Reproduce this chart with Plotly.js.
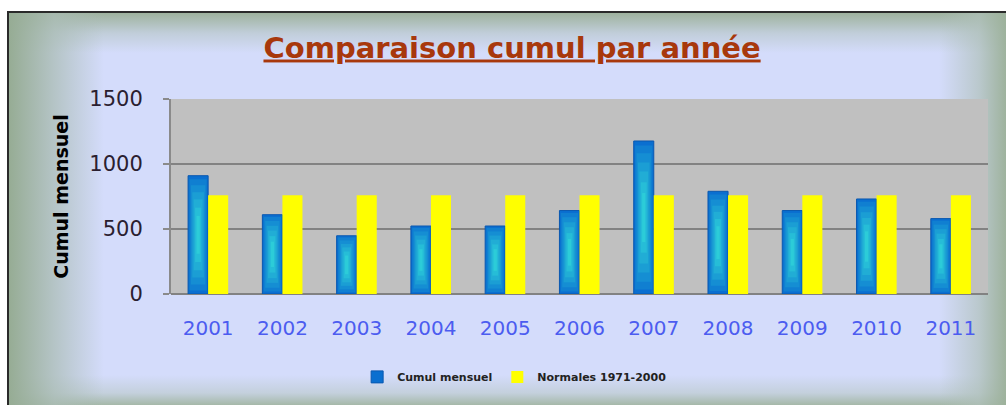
<!DOCTYPE html>
<html>
<head>
<meta charset="utf-8">
<script src="https://cdn.plot.ly/plotly-3.0.1.min.js"></script>
<style>
  html, body { margin: 0; padding: 0; background: #ffffff; }
  #wrap { position: relative; width: 1006px; height: 405px; overflow: hidden; background: #ffffff; }
  #frame {
    position: absolute; left: 7px; top: 11px; width: 1010px; height: 400px;
    border-left: 2px solid #2a2a2a; border-top: 2px solid #2a2a2a;
    background:
      linear-gradient(to right, rgba(150,172,148,1) 0px, rgba(170,188,180,0.75) 45px, rgba(212,220,250,0) 95px),
      linear-gradient(to left, rgba(155,176,152,1) 10px, rgba(175,192,185,0.7) 40px, rgba(212,220,250,0) 80px),
      linear-gradient(to bottom, rgba(158,178,158,1) 0px, rgba(180,196,195,0.6) 20px, rgba(212,220,250,0) 40px),
      linear-gradient(to top, rgba(160,180,160,1) 6px, rgba(185,200,200,0.6) 20px, rgba(212,220,250,0) 38px),
      #d4dcfb;
  }
  #chart { position: absolute; left: 0; top: 0; width: 1006px; height: 405px; }
</style>
</head>
<body>
<div id="wrap">
  <div id="frame"></div>
  <div id="chart"></div>
</div>
<script>
const years = ['2001','2002','2003','2004','2005','2006','2007','2008','2009','2010','2011'];
const cumulMensuel = [910, 610, 448, 523, 523, 642, 1177, 790, 642, 731, 580];
const normales = [760, 760, 760, 760, 760, 760, 760, 760, 760, 760, 760];
const seriesNames = ['Cumul mensuel', 'Normales 1971-2000'];
const yTicks = [0, 500, 1000, 1500];

const BAR_W = 0.27;
// shading layers imitating the blue bar's glossy gradient: [width fraction, start fraction, height fraction, colour]
const shadeLayers = [
  [0.86, 0.03, 0.94, '#107fd1'],
  [0.72, 0.08, 0.84, '#158ed3'],
  [0.58, 0.14, 0.72, '#1b9ed4'],
  [0.44, 0.20, 0.60, '#21add5'],
  [0.30, 0.27, 0.46, '#26bdd7'],
  [0.16, 0.34, 0.32, '#2cccd8']
];

const traces = [
  {
    type: 'bar', name: seriesNames[0], x: years, y: cumulMensuel,
    width: BAR_W, offset: -BAR_W,
    marker: { color: '#0a6fd0', line: { color: '#0a58b0', width: 1 } },
    hoverinfo: 'skip'
  }
];
shadeLayers.forEach(([wf, bf, hf, col]) => {
  const w = BAR_W * wf;
  traces.push({
    type: 'bar', x: years,
    y: cumulMensuel.map(v => v * hf),
    base: cumulMensuel.map(v => v * bf),
    width: w, offset: -BAR_W / 2 - w / 2,
    marker: { color: col, line: { width: 0 } },
    showlegend: false, hoverinfo: 'skip'
  });
});
traces.push({
  type: 'bar', name: seriesNames[1], x: years, y: normales,
  width: BAR_W, offset: 0,
  marker: { color: '#ffff00', line: { width: 0 } },
  hoverinfo: 'skip'
});

const layout = {
  width: 1006, height: 405,
  margin: { l: 171, r: 18, t: 99, b: 111 },
  paper_bgcolor: 'rgba(0,0,0,0)',
  plot_bgcolor: '#c0c0c0',
  barmode: 'overlay',
  title: {
    text: 'Comparaison cumul par année',
    font: { family: 'DejaVu Sans', size: 29, color: '#a8380c', weight: 'bold', lineposition: 'under' },
    x: 0.509, xref: 'container', xanchor: 'center',
    y: 0.883, yref: 'container', yanchor: 'middle'
  },
  xaxis: {
    type: 'category',
    showgrid: false, zeroline: false,
    showline: false,
    ticks: '',
    tickfont: { family: 'DejaVu Sans', size: 20, color: '#4c5cf0' },
    ticklabelstandoff: 20
  },
  yaxis: {
    range: [0, 1500],
    tickvals: yTicks,
    ticktext: yTicks.map(String),
    showgrid: true, gridcolor: '#828282', gridwidth: 2,
    zeroline: true, zerolinecolor: '#828282', zerolinewidth: 2,
    showline: true, linecolor: '#8a8a8a', linewidth: 2,
    ticks: 'outside', ticklen: 6, tickcolor: '#8a8a8a', tickwidth: 2,
    tickfont: { family: 'DejaVu Sans', size: 21, color: '#2a2030' },
    ticklabelstandoff: 16,
    title: {
      text: 'Cumul mensuel',
      font: { family: 'DejaVu Sans', size: 19, color: '#000000', weight: 'bold' },
      standoff: 16
    }
  },
  showlegend: true,
  legend: {
    orientation: 'h',
    x: 0.42, xanchor: 'center',
    y: -0.425, yanchor: 'middle',
    bgcolor: 'rgba(0,0,0,0)',
    font: { family: 'DejaVu Sans', size: 11, color: '#222222', weight: 'bold' },
    itemwidth: 30, traceorder: 'normal'
  }
};

Plotly.newPlot('chart', traces, layout, { displayModeBar: false, staticPlot: true });
</script>
</body>
</html>
